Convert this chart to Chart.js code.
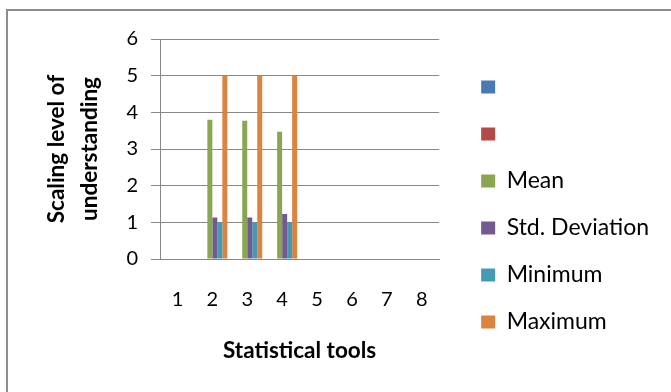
<!DOCTYPE html>
<html>
<head>
<meta charset="utf-8">
<script src="https://cdn.jsdelivr.net/npm/chart.js@4/dist/chart.umd.min.js"></script>
<style>
  html, body { margin: 0; padding: 0; background: #fff; overflow: hidden; }
  #frame {
    position: absolute; left: 6px; top: 9px;
    width: 720px; height: 440px;
    border: 2px solid #8c8c8c;
  }
  #wrap { position: absolute; left: 0; top: 0; width: 671px; height: 392px; }
</style>
</head>
<body>
<div id="frame"></div>
<div id="wrap"><canvas id="chart" width="671" height="392"></canvas></div>
<script>
// Statistical tools on the x axis, scores on a 0-6 understanding scale
const categories = ['1', '2', '3', '4', '5', '6', '7', '8'];
const seriesBlank1 = [null, null, null, null, null, null, null, null];
const seriesBlank2 = [null, null, null, null, null, null, null, null];
const meanValues = [null, 3.80, 3.77, 3.47, null, null, null, null];
const stdDevValues = [null, 1.13, 1.13, 1.23, null, null, null, null];
const minimumValues = [null, 1, 1, 1, null, null, null, null];
const maximumValues = [null, 5, 5, 5, null, null, null, null];
const yTicks = [0, 1, 2, 3, 4, 5, 6];

const FONT = 'Lato, "Liberation Sans", sans-serif';
const GRID = '#888888';

// push the legend a little further right of the plot area
const legendShift = {
  id: 'legendShift',
  afterLayout(chart) {
    const lg = chart.legend;
    if (lg) { lg.left += 18; lg.right += 18; }
  }
};

new Chart(document.getElementById('chart'), {
  type: 'bar',
  data: {
    labels: categories,
    datasets: [
      { label: '', data: seriesBlank1, backgroundColor: '#4a7ab3' },
      { label: '', data: seriesBlank2, backgroundColor: '#b24a48' },
      { label: 'Mean', data: meanValues, backgroundColor: '#8ba651' },
      { label: 'Std. Deviation', data: stdDevValues, backgroundColor: '#735a91' },
      { label: 'Minimum', data: minimumValues, backgroundColor: '#4499b3' },
      { label: 'Maximum', data: maximumValues, backgroundColor: '#db843f' }
    ]
  },
  options: {
    responsive: false,
    animation: false,
    events: [],
    categoryPercentage: 0.86,
    barPercentage: 1.0,
    layout: { padding: { left: 0, top: 39, right: 30, bottom: 22 } },
    plugins: {
      tooltip: { enabled: false },
      legend: {
        position: 'right',
        align: 'center',
        maxWidth: 260,
        labels: {
          boxWidth: 14,
          boxHeight: 13,
          padding: 24,
          color: '#000',
          font: { family: FONT, size: 23 }
        }
      }
    },
    scales: {
      x: {
        grid: { display: false, drawTicks: false, tickLength: 0 },
        border: { display: true, color: GRID, width: 1 },
        ticks: { color: '#000', padding: 29, font: { family: FONT, size: 20 } },
        title: {
          display: true,
          text: 'Statistical tools',
          color: '#000',
          padding: { top: 0, bottom: 6 },
          font: { family: FONT, size: 22.5, weight: 'bold' }
        },
        afterFit(scale) { scale.height = 111; }
      },
      y: {
        min: 0,
        max: 6,
        afterBuildTicks(scale) { scale.ticks = yTicks.map(v => ({ value: v })); },
        grid: { color: GRID, lineWidth: 1, tickLength: 9 },
        border: { display: true, color: GRID, width: 1 },
        ticks: { color: '#000', padding: 13, font: { family: FONT, size: 20 } },
        title: {
          display: true,
          text: ['Scaling level of', 'understanding'],
          color: '#000',
          padding: { top: 40, bottom: 0 },
          font: { family: FONT, size: 22.5, weight: 'bold', lineHeight: 1.47 }
        },
        afterFit(scale) { scale.width = 160; }
      }
    }
  },
  plugins: [legendShift]
});
</script>
</body>
</html>
